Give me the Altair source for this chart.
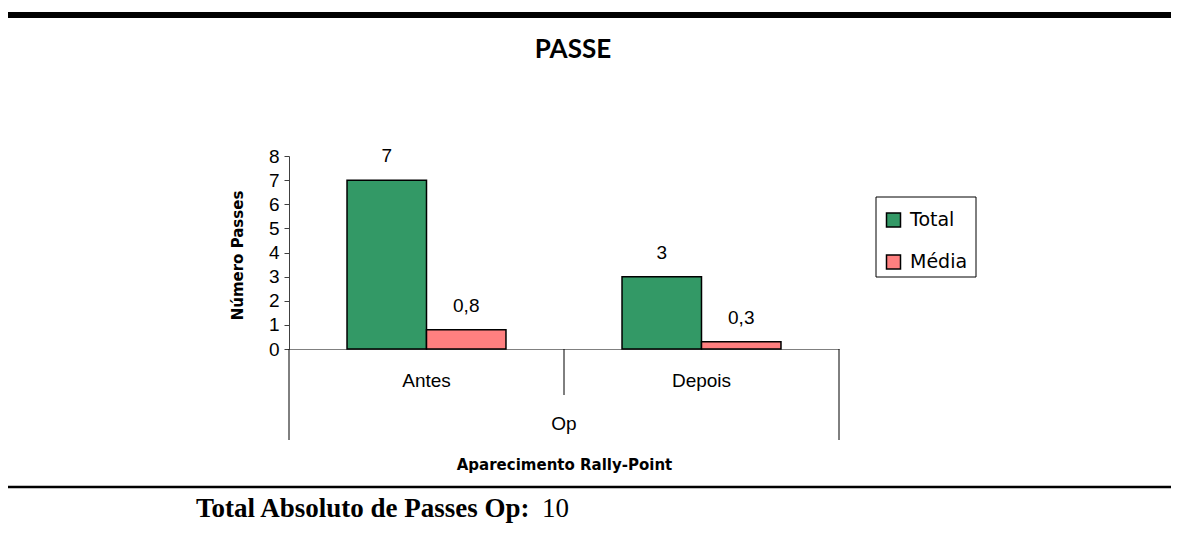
import altair as alt
import pandas as pd

# ---- data ----
periodos = ["Antes", "Depois"]
series = ["Total", "Média"]
total = [7, 3]
media = [0.8, 0.3]
cores = ["#339966", "#FF8080"]

rows = []
for i, p in enumerate(periodos):
    rows.append({"Periodo": p, "Serie": "Total", "Valor": total[i]})
    rows.append({"Periodo": p, "Serie": "Média", "Valor": media[i]})
df = pd.DataFrame(rows)

W, H = 550, 193
LABEL_FONT = "Liberation Sans"
GOTHIC = "DejaVu Sans"
NUM_SIZE = 19

x_enc = alt.X(
    "Periodo:N",
    scale=alt.Scale(domain=periodos, paddingInner=0, paddingOuter=0),
    axis=alt.Axis(
        title="Aparecimento Rally-Point",
        labelAngle=0,
        ticks=False,
        labelPadding=22,
        labelFontSize=NUM_SIZE,
        labelFont=LABEL_FONT,
        labelColor="black",
        domainColor="#808080",
        titleFont=GOTHIC,
        titleFontSize=15,
        titleFontWeight="bold",
        titleColor="black",
        titleY=115,
        titleBaseline="middle",
    ),
)
xoff_enc = alt.XOffset(
    "Serie:N", scale=alt.Scale(domain=series, paddingInner=0, paddingOuter=0.73)
)
y_enc = alt.Y(
    "Valor:Q",
    scale=alt.Scale(domain=[0, 8], nice=False),
    axis=alt.Axis(
        values=[0, 1, 2, 3, 4, 5, 6, 7, 8],
        labelOverlap=False,
        grid=False,
        tickSize=5,
        tickColor="#404040",
        domainColor="#404040",
        labelFontSize=NUM_SIZE,
        labelFont=LABEL_FONT,
        labelColor="black",
        labelPadding=5,
        title="Número Passes",
        titleFont=GOTHIC,
        titleFontSize=15,
        titleFontWeight="bold",
        titleColor="black",
        titleX=-52,
        titleY=99,
        titleBaseline="middle",
    ),
)

base = alt.Chart(df)

bars = base.mark_bar(stroke="black", strokeWidth=1.5).encode(
    x=x_enc,
    xOffset=xoff_enc,
    y=y_enc,
    color=alt.Color(
        "Serie:N",
        scale=alt.Scale(domain=series, range=cores),
        legend=alt.Legend(
            title=None,
            orient="none",
            legendX=595,
            legendY=54.5,
            symbolType="square",
            symbolSize=196,
            symbolStrokeColor="black",
            symbolStrokeWidth=1.5,
            labelFont=GOTHIC,
            labelFontSize=19,
            labelColor="black",
            labelOffset=7,
            rowPadding=21,
            padding=0,
        ),
    ),
)

labels = base.transform_calculate(
    rotulo="replace(toString(datum.Valor), '.', ',')"
).mark_text(fontSize=NUM_SIZE, font=LABEL_FONT, color="black", baseline="middle", dy=-24).encode(
    x=x_enc,
    xOffset=xoff_enc,
    y=y_enc,
    text="rotulo:N",
)

one = alt.Data(values=[{"k": 1}])

legend_box = alt.Chart(one).mark_rect(filled=False, stroke="black", strokeWidth=1).encode(
    x=alt.value(587), x2=alt.value(687), y=alt.value(41), y2=alt.value(121)
)

top_line = alt.Chart(one).mark_rule(color="black", strokeWidth=6).encode(
    x=alt.value(-281), x2=alt.value(882), y=alt.value(-141)
)
bottom_line = alt.Chart(one).mark_rule(color="black", strokeWidth=2.5).encode(
    x=alt.value(-281), x2=alt.value(882), y=alt.value(331)
)

div_left = alt.Chart(one).mark_rule(color="black", strokeWidth=1).encode(
    x=alt.value(0), y=alt.value(H), y2=alt.value(284)
)
div_mid = alt.Chart(one).mark_rule(color="black", strokeWidth=1).encode(
    x=alt.value(W / 2), y=alt.value(H), y2=alt.value(239)
)
div_right = alt.Chart(one).mark_rule(color="black", strokeWidth=1).encode(
    x=alt.value(W), y=alt.value(H), y2=alt.value(284)
)

op_text = alt.Chart(alt.Data(values=[{"t": "Op"}])).mark_text(
    fontSize=NUM_SIZE, font=LABEL_FONT, color="black", baseline="middle"
).encode(x=alt.value(W / 2), y=alt.value(268), text="t:N")

title_text = alt.Chart(alt.Data(values=[{"t": "PASSE"}])).mark_text(
    fontSize=26, font="Lato", fontWeight="bold", color="black", baseline="alphabetic"
).encode(x=alt.value(284), y=alt.value(-98), text="t:N")

foot_label = alt.Chart(alt.Data(values=[{"t": "Total Absoluto de Passes Op:"}])).mark_text(
    fontSize=27, font="Liberation Serif", fontWeight="bold", color="black",
    baseline="alphabetic", align="left"
).encode(x=alt.value(-93), y=alt.value(361), text="t:N")

foot_value = base.transform_filter("datum.Serie == 'Total'").transform_aggregate(
    soma="sum(Valor)"
).mark_text(
    fontSize=27, font="Liberation Serif", color="black", baseline="alphabetic", align="left"
).encode(x=alt.value(253), y=alt.value(361), text="soma:Q")

chart = alt.layer(
    top_line, bottom_line, div_left, div_mid, div_right,
    bars, labels, legend_box, op_text, title_text, foot_label, foot_value,
).properties(
    width=W,
    height=H,
    autosize=alt.AutoSizeParams(type="none"),
    padding={"left": 281, "top": 148, "right": 332, "bottom": 174},
).configure_view(stroke=None)

chart.save("out.html", embed_options={"renderer": "svg", "actions": False})
